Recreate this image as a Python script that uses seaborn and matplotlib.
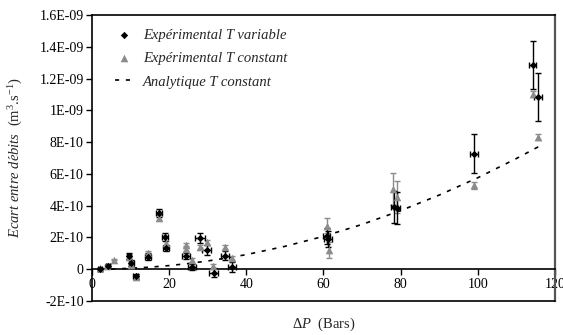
import numpy as np
import pandas as pd
import matplotlib
matplotlib.use('Agg')
import matplotlib.pyplot as plt
import seaborn as sns

# Expérimental T variable (black diamonds), y in 1E-10 m3/s
x_var = [2.1, 4.1, 9.6, 10.2, 11.3, 14.5, 17.4, 19.0, 19.1, 24.4, 25.9, 28.0, 29.7,
         31.5, 34.4, 36.3, 60.8, 61.2, 78.2, 79.0, 99.0, 114.2, 115.6]
y_var = [0.0, 0.2, 0.85, 0.4, -0.45, 0.8, 3.55, 2.03, 1.35, 0.85, 0.12, 1.95, 1.2,
         -0.22, 0.85, 0.15, 2.1, 1.9, 3.9, 3.85, 7.28, 12.85, 10.85]
yerr_var = [0.1, 0.1, 0.2, 0.2, 0.15, 0.2, 0.25, 0.25, 0.2, 0.2, 0.2, 0.3, 0.3,
            0.3, 0.3, 0.3, 0.5, 0.5, 1.0, 1.0, 1.25, 1.5, 1.5]
xerr_var = [0.5, 0.5, 0.6, 0.6, 0.6, 0.7, 0.8, 0.8, 0.8, 1.0, 1.0, 1.3, 1.2,
            1.2, 1.0, 1.0, 1.0, 1.0, 0.8, 0.8, 1.0, 1.0, 1.0]

# Expérimental T constant (grey triangles)
x_cst = [2.0, 4.0, 5.7, 9.6, 10.2, 11.3, 14.5, 17.4, 19.1, 24.4, 24.4, 25.9, 28.0,
         29.7, 31.4, 34.4, 36.3, 60.8, 61.3, 78.1, 79.1, 99.0, 114.2, 115.6]
y_cst = [0.05, 0.2, 0.61, 0.77, 0.25, -0.48, 1.05, 3.25, 1.65, 1.52, 1.3, 0.57, 1.4,
         1.7, 0.19, 1.4, 0.7, 2.75, 1.2, 5.07, 4.55, 5.28, 11.05, 8.32]
yerr_cst = [0.05, 0.05, 0.05, 0.1, 0.1, 0.1, 0.1, 0.15, 0.15, 0.15, 0.15, 0.15, 0.15,
            0.15, 0.15, 0.15, 0.15, 0.5, 0.5, 1.0, 1.0, 0.2, 0.2, 0.2]

# Analytique T constant (dashed)
x_ana = [5, 10, 15, 20, 25, 30, 35, 40, 50, 60, 70, 80, 90, 100, 110, 116]
y_ana = [0.01, 0.06, 0.13, 0.23, 0.36, 0.52, 0.71, 0.92, 1.44, 2.07, 2.82, 3.69,
         4.67, 5.76, 6.97, 7.75]

yticks = [-2e-10, 0, 2e-10, 4e-10, 6e-10, 8e-10, 1e-09, 1.2e-09, 1.4e-09, 1.6e-09]
ytick_labels = ['-2E-10', '0', '2E-10', '4E-10', '6E-10', '8E-10', '1E-09',
                '1.2E-09', '1.4E-09', '1.6E-09']

df_var = pd.DataFrame({'x': x_var, 'y': np.array(y_var) * 1e-10})
df_cst = pd.DataFrame({'x': x_cst, 'y': np.array(y_cst) * 1e-10})
df_ana = pd.DataFrame({'x': x_ana, 'y': np.array(y_ana) * 1e-10})

sns.set_style('ticks')
plt.rcParams['font.family'] = ['Liberation Serif', 'DejaVu Serif']
plt.rcParams['mathtext.fontset'] = 'custom'
plt.rcParams['mathtext.rm'] = 'Liberation Serif'
plt.rcParams['mathtext.it'] = 'Liberation Serif:italic'

fig = plt.figure(figsize=(5.63, 3.35), dpi=100)
ax = fig.add_axes([0.1634, 0.1015, 0.8224, 0.8535])

grey = '#8c8c8c'
ax.errorbar(df_cst['x'], df_cst['y'], yerr=np.array(yerr_cst) * 1e-10, fmt='none',
            ecolor=grey, elinewidth=1, capsize=2.5, capthick=1, zorder=2)
ax.errorbar(df_var['x'], df_var['y'], yerr=np.array(yerr_var) * 1e-10, xerr=xerr_var,
            fmt='none', ecolor='black', elinewidth=1, capsize=2.5, capthick=1, zorder=3)

sns.lineplot(data=df_ana, x='x', y='y', ax=ax, color='black', lw=1.2,
             linestyle=(0, (2.5, 4)), label='Analytique T constant', zorder=1)
sns.scatterplot(data=df_cst, x='x', y='y', ax=ax, marker='^', color=grey, s=30,
                edgecolor=grey, linewidth=0, label='Expérimental T constant', zorder=4)
sns.scatterplot(data=df_var, x='x', y='y', ax=ax, marker='D', color='black', s=14,
                edgecolor='black', linewidth=0, label='Expérimental T variable', zorder=5)

ax.set_xlim(0, 120)
ax.set_ylim(-2e-10, 1.6e-09)
ax.set_xticks([0, 20, 40, 60, 80, 100, 120])
ax.set_yticks(yticks)
ax.set_yticklabels(ytick_labels)
ax.tick_params(axis='both', labelsize=10, direction='out', length=4, width=1,
               colors='black', pad=2)

ax.spines['bottom'].set_position(('data', 0))
for s in ['left', 'top', 'right', 'bottom']:
    ax.spines[s].set_linewidth(1.2)
    ax.spines[s].set_color('black')
ax.spines['right'].set_color('#555555')
ax.spines['right'].set_linewidth(1.6)
ax.plot([0, 120], [-2e-10, -2e-10], color='black', lw=1.2, clip_on=False, zorder=6)

ax.set_xlabel(r'$\mathit{\Delta P}$  (Bars)', fontsize=10.5)
ax.xaxis.set_label_coords(0.5, -0.05)
ax.set_ylabel(r'$\mathit{Ecart\ entre\ d\acute{e}bits}$  (m$^{3}$.s$^{-1}$)', fontsize=10.5)
ax.yaxis.set_label_coords(-0.145, 0.5)

h, l = ax.get_legend_handles_labels()
order = [2, 1, 0]
ax.legend([h[i] for i in order], [l[i] for i in order], loc='upper left',
          bbox_to_anchor=(0.05, 0.953), frameon=False, handlelength=1.15,
          handletextpad=0.75, borderpad=0, borderaxespad=0,
          labelspacing=0.7, prop={'family': 'Liberation Serif', 'style': 'italic', 'size': 10.5})

fig.savefig('out.png', dpi=100)
